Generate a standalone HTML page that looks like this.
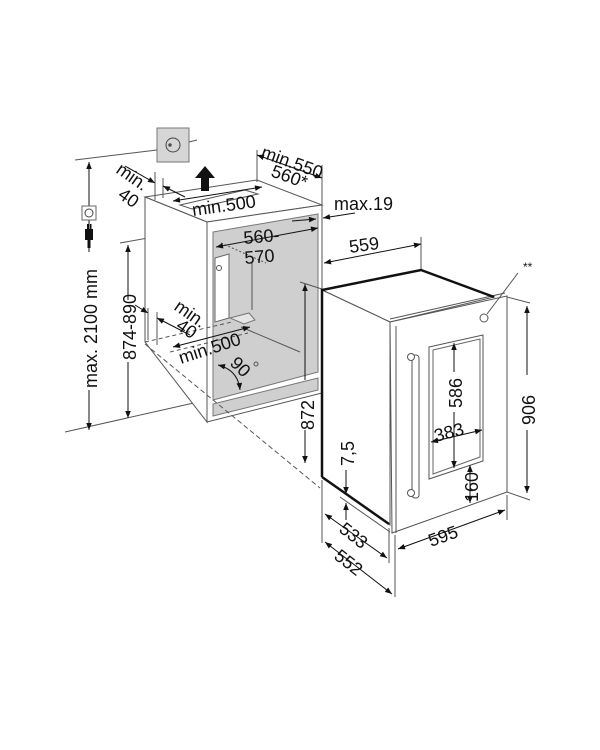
<!DOCTYPE html>
<html><head><meta charset="utf-8"><style>
html,body{margin:0;padding:0;background:#fff;}
svg{display:block;}
text{font-family:"Liberation Sans",sans-serif;fill:#111;}
</style></head><body>
<svg width="600" height="750" viewBox="0 0 600 750" xmlns="http://www.w3.org/2000/svg">
<defs>
<marker id="a" viewBox="0 0 10 10" refX="10" refY="5" markerWidth="9" markerHeight="7" orient="auto-start-reverse" markerUnits="userSpaceOnUse"><path d="M0,1 L10,5 L0,9 z" fill="#111"/></marker>
</defs>
<g stroke="#555" stroke-width="1" fill="none">
<rect x="157" y="128" width="32" height="34" fill="#d6d6d6" stroke="#777"/>
<circle cx="173" cy="145" r="7" stroke="#444"/>
<circle cx="170" cy="145" r="1.3" fill="#444"/>
<line x1="189" y1="142" x2="197" y2="140"/>
<line x1="75" y1="160" x2="157" y2="150"/>
<line x1="65" y1="432" x2="207" y2="400"/>
<line x1="89" y1="162" x2="89" y2="252" marker-start="url(#a)" stroke="#111"/>
<line x1="89" y1="390" x2="89" y2="430" marker-end="url(#a)" stroke="#111"/>
<line x1="120" y1="243" x2="215" y2="226"/>
<line x1="128" y1="245" x2="128" y2="300" marker-start="url(#a)" stroke="#111"/>
<line x1="128" y1="362" x2="128" y2="418" marker-end="url(#a)" stroke="#111"/>
<polygon points="145,197 257,180 322,205 207,222" fill="#fff" stroke="#555"/>
<polygon points="145,197 207,222 207,422 145,342" fill="#fff" stroke="#555"/>
<polygon points="207,222 322,205 322,393 207,422" fill="#fff" stroke="#555"/>
<polygon points="213,232 318,214 318,372 213,400" fill="#cfcfcf" stroke="#777"/>
<polygon points="213,404 318,378 318,390 213,416" fill="#cfcfcf" stroke="#777"/>
<polygon points="180,205 245,190 258,194 192,209" fill="#fff"/>
<polygon points="205,166 195,178 201,178 201,191 209,191 209,178 215,178" fill="#111" stroke="none"/>
<line x1="221" y1="243" x2="266" y2="263" stroke-dasharray="2,2"/>
<line x1="252" y1="262" x2="252" y2="310"/>
<polygon points="215,258 229,254 229,318 215,322" fill="#fff" stroke="#666"/>
<circle cx="219" cy="268" r="2.5"/>
<polygon points="230,318 249,313 255,320 244,324" fill="#e6e6e6" stroke="#777"/>
<line x1="241" y1="327" x2="300" y2="352"/>
<line x1="145" y1="342" x2="232" y2="322" stroke-dasharray="4,3"/>
<line x1="145" y1="344" x2="320" y2="488" stroke-dasharray="5,3"/>
<line x1="170" y1="352" x2="248" y2="333" stroke-dasharray="4,3"/>
<line x1="155" y1="172" x2="155" y2="200"/><line x1="163" y1="178" x2="163" y2="198"/>
<line x1="125" y1="166" x2="155" y2="183" marker-end="url(#a)" stroke="#111"/>
<line x1="185" y1="197" x2="163" y2="186" marker-end="url(#a)" stroke="#111"/>
<line x1="148" y1="308" x2="148" y2="340"/><line x1="157" y1="312" x2="157" y2="345"/>
<line x1="135" y1="305" x2="148" y2="313" marker-end="url(#a)" stroke="#111"/>
<line x1="190" y1="335" x2="157" y2="318" marker-end="url(#a)" stroke="#111"/>
<line x1="173" y1="201" x2="262" y2="187" marker-start="url(#a)" marker-end="url(#a)" stroke="#111"/>
<line x1="173" y1="347" x2="250" y2="327" marker-start="url(#a)" marker-end="url(#a)" stroke="#111"/>
<path d="M218,365 Q238,370 240,390" stroke="#111" marker-start="url(#a)" marker-end="url(#a)"/>
<circle cx="256" cy="364" r="2"/>
<line x1="216" y1="247" x2="318" y2="228" marker-start="url(#a)" marker-end="url(#a)" stroke="#111"/>
<line x1="257" y1="150" x2="257" y2="182"/>
<line x1="322" y1="165" x2="322" y2="395"/>
<line x1="257" y1="155" x2="322" y2="178" marker-start="url(#a)" marker-end="url(#a)" stroke="#111"/>
<line x1="292" y1="221" x2="316" y2="219" marker-end="url(#a)" stroke="#111"/>
<line x1="355" y1="213" x2="323" y2="218" marker-end="url(#a)" stroke="#111"/>
<line x1="421" y1="237" x2="421" y2="272"/>
<line x1="324" y1="263" x2="421" y2="244" marker-start="url(#a)" marker-end="url(#a)" stroke="#111"/>
<line x1="300" y1="282" x2="325" y2="290"/>
<line x1="305" y1="284" x2="305" y2="380" marker-start="url(#a)" stroke="#111"/>
<line x1="305" y1="430" x2="305" y2="463" marker-end="url(#a)" stroke="#111"/>
<polygon points="322,290 421,270 494,297 390,322" fill="#fff" stroke="#555"/>
<polygon points="322,290 390,322 390,525 322,477" fill="#fff" stroke="#555"/>
<polygon points="390,322 507,296 507,492 392,533" fill="#fff" stroke="#555"/>
<line x1="396" y1="326" x2="396" y2="533"/>
<line x1="390" y1="319" x2="505" y2="293"/>
<polyline points="322,477 322,290 421,270 494,297" stroke="#111" stroke-width="2.5"/>
<line x1="322" y1="477" x2="389" y2="524" stroke="#111" stroke-width="2.5"/>
<polygon points="429,347 483,335 483,461 429,479" fill="#fff" stroke="#555"/>
<polygon points="433,350 480,339 480,457 433,474" fill="#fff" stroke="#666"/>
<rect x="412" y="355" width="7" height="143" rx="3" fill="#fff" stroke="#555"/>
<circle cx="411" cy="357" r="3.5" fill="#fff"/><circle cx="411" cy="493" r="3.5" fill="#fff"/>
<circle cx="484" cy="318" r="4" fill="#fff"/>
<line x1="487" y1="314" x2="518" y2="273"/>
<line x1="454" y1="343" x2="454" y2="372" marker-start="url(#a)" stroke="#111"/>
<line x1="454" y1="412" x2="454" y2="468" marker-end="url(#a)" stroke="#111"/>
<line x1="431" y1="442" x2="482" y2="430" marker-start="url(#a)" marker-end="url(#a)" stroke="#111"/>
<line x1="470" y1="465" x2="470" y2="503" marker-start="url(#a)" marker-end="url(#a)" stroke="#111"/>
<line x1="507" y1="297" x2="530" y2="303"/>
<line x1="507" y1="492" x2="530" y2="500"/>
<line x1="527" y1="306" x2="527" y2="375" marker-start="url(#a)" stroke="#111"/>
<line x1="527" y1="430" x2="527" y2="493" marker-end="url(#a)" stroke="#111"/>
<line x1="346" y1="470" x2="346" y2="494" marker-end="url(#a)" stroke="#111"/>
<line x1="346" y1="520" x2="346" y2="503" marker-end="url(#a)" stroke="#111"/>
<line x1="340" y1="497" x2="390" y2="532"/>
<line x1="322" y1="480" x2="322" y2="543"/>
<line x1="389" y1="528" x2="389" y2="563"/>
<line x1="395" y1="535" x2="395" y2="597"/>
<line x1="507" y1="495" x2="507" y2="520"/>
<line x1="325" y1="514" x2="387" y2="558" marker-start="url(#a)" marker-end="url(#a)" stroke="#111"/>
<line x1="325" y1="542" x2="392" y2="594" marker-start="url(#a)" marker-end="url(#a)" stroke="#111"/>
<line x1="398" y1="549" x2="505" y2="510" marker-start="url(#a)" marker-end="url(#a)" stroke="#111"/>
</g>
<rect x="82" y="206" width="14" height="14" fill="#fff" stroke="#666"/>
<circle cx="89" cy="213" r="4" fill="none" stroke="#444"/>
<rect x="85" y="229" width="8" height="11" fill="#111"/><rect x="87" y="224" width="1.5" height="5" fill="#111"/><rect x="90" y="224" width="1.5" height="5" fill="#111"/><rect x="87.5" y="240" width="3" height="8" fill="#111"/>
<g font-size="18">
<text transform="translate(97,388) rotate(-90)">max. 2100 mm</text>
<text transform="translate(136,360) rotate(-90)">874-890</text>
<text transform="translate(115,172) rotate(35)">min.</text>
<text transform="translate(117,197) rotate(35)">40</text>
<text transform="translate(193,216) rotate(-8)">min.500</text>
<text transform="translate(260,157) rotate(20)">min.550</text>
<text transform="translate(270,176) rotate(20)">560*</text>
<text x="334" y="210">max.19</text>
<text transform="translate(244,244) rotate(-5)">560-</text>
<text transform="translate(245,264) rotate(-5)">570</text>
<text x="350" y="253" transform="rotate(-8 350 253)">559</text>
<text transform="translate(173,309) rotate(35)">min.</text>
<text transform="translate(175,328) rotate(35)">40</text>
<text transform="translate(181,364) rotate(-18)">min.500</text>
<text transform="translate(229,364) rotate(45)">90</text>
<text transform="translate(314,430) rotate(-90)">872</text>
<text transform="translate(354,466) rotate(-90)">7,5</text>
<text transform="translate(462,408) rotate(-90)">586</text>
<text transform="translate(436,442) rotate(-15)">383</text>
<text transform="translate(478,502) rotate(-90)">160</text>
<text transform="translate(535,425) rotate(-90)">906</text>
<text transform="translate(338,531) rotate(38)">533</text>
<text transform="translate(333,558) rotate(38)">552</text>
<text transform="translate(431,547) rotate(-20)">595</text>
<text x="523" y="271" font-size="12">**</text>
</g>
</svg>
</body></html>
